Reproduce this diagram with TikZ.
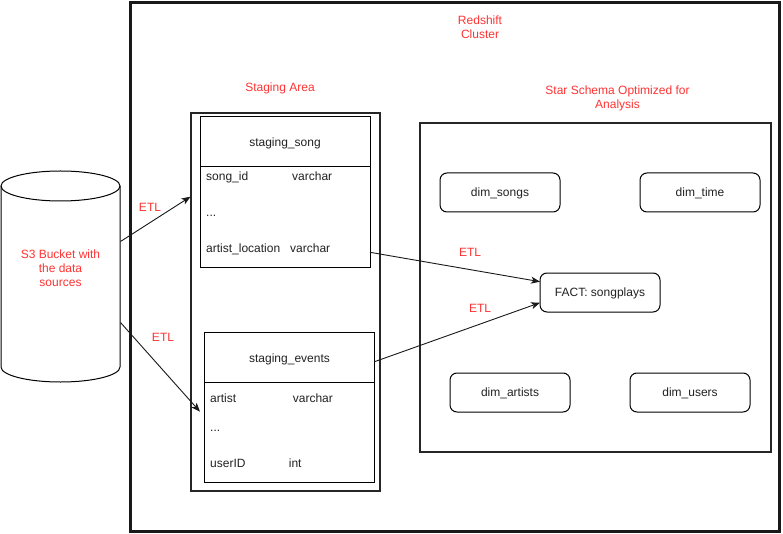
\documentclass[tikz,border=0pt]{standalone}
\usepackage{fontspec}
\setmainfont{Liberation Sans}
\usetikzlibrary{arrows.meta,calc}
\definecolor{lblred}{HTML}{FF3333}
\definecolor{ink}{HTML}{222222}
\begin{document}
\begin{tikzpicture}[x=1pt,y=-1pt,
  every node/.style={font=\fontsize{12}{14}\selectfont, text=ink, inner sep=0pt},
  oneline/.style={text height=10pt, text depth=2pt},
  redlbl/.style={text=lblred, align=center},
  dimbox/.style={draw=black, line width=1pt, rounded corners=7pt, minimum width=120pt, minimum height=39pt, oneline},
  tablebox/.style={draw=black, line width=1pt, minimum width=170pt, minimum height=150pt},
  areabox/.style={draw=black!85, line width=2pt},
  clusterbox/.style={draw=black!90, line width=3pt},
  rowtxt/.style={anchor=base west},
  etl/.style={-{Stealth[length=9pt,width=7pt,inset=2.5pt]}, line width=0.9pt, draw=black!90}
]
\useasboundingbox (0,0) rectangle (783,534);
\fill[white] (0,0) rectangle (783,534);

% cluster and areas
\node[clusterbox, minimum width=649pt, minimum height=529pt] (cluster) at (455,267) {};
\node[areabox, minimum width=189pt, minimum height=378pt] (staging) at (285.5,302) {};
\node[areabox, minimum width=351pt, minimum height=329pt] (star) at (595.5,287.5) {};

% labels
\node[redlbl] (clusterlbl) at (480,27.4) {Redshift\\Cluster};
\node[redlbl, oneline] (staginglbl) at (280,87.7) {Staging Area};
\node[redlbl] (starlbl) at (617.5,98.7) {Star Schema Optimized for\\Analysis};

% S3 bucket cylinder
\node[minimum width=119pt, minimum height=211pt] (s3) at (60.5,276.5) {};
\draw[line width=1pt, fill=white] (1,186) -- (1,367) arc[start angle=180, end angle=0, x radius=59.5, y radius=15] -- (120,186);
\draw[line width=1pt] (60.5,186) ellipse[x radius=59.5, y radius=15];
\node[redlbl] (s3lbl) at (60.5,267.8) {S3 Bucket with\\the data\\sources};

% staging_song table
\node[tablebox] (song) at (285,192) {};
\draw[line width=1pt] (200,167) -- (370,167);
\node[oneline] (songtitle) at (285,143) {staging\_song};
\node[rowtxt] (s1a) at (206,180.3) {song\_id};
\node[rowtxt] (s1b) at (292,180.3) {varchar};
\node[rowtxt] (s2a) at (206,217) {...};
\node[rowtxt] (s3a) at (206,252.3) {artist\_location};
\node[rowtxt] (s3b) at (290,252.3) {varchar};

% staging_events table
\node[tablebox] (events) at (289.5,407.5) {};
\draw[line width=1pt] (204.5,382.5) -- (374.5,382.5);
\node[oneline] (eventstitle) at (289.5,358) {staging\_events};
\node[rowtxt] (e1a) at (210,402.5) {artist};
\node[rowtxt] (e1b) at (292.7,402.5) {varchar};
\node[rowtxt] (e2a) at (210,431.5) {...};
\node[rowtxt] (e3a) at (210,467.3) {userID};
\node[rowtxt] (e3b) at (288.7,467.3) {int};

% star schema boxes
\node[dimbox] (dimsongs) at (500,192.5) {dim\_songs};
\node[dimbox] (dimtime) at (700,192.5) {dim\_time};
\node[dimbox] (fact) at (600,292.5) {FACT: songplays};
\node[dimbox] (dimartists) at (510,392.5) {dim\_artists};
\node[dimbox] (dimusers) at (690,392.5) {dim\_users};

% connector end points
\coordinate (c1s) at (120.5,241.5);
\coordinate (c1e) at (190.5,196.7);
\coordinate (c2s) at (120.5,322.5);
\coordinate (c2e) at (200,411.7);
\coordinate (c3s) at (370,252.3);
\coordinate (c3e) at (540,281.7);
\coordinate (c4s) at (374.5,361.7);
\coordinate (c4e) at (540,302.7);

\draw[etl] (c1s) -- (c1e);
\draw[etl] (c2s) -- (c2e);
\draw[etl] (c3s) -- (c3e);
\draw[etl] (c4s) -- (c4e);

\node[redlbl, oneline] (etl1) at (150,207.7) {ETL};
\node[redlbl, oneline] (etl2) at (163,337) {ETL};
\node[redlbl, oneline] (etl3) at (470,253) {ETL};
\node[redlbl, oneline] (etl4) at (480,308) {ETL};
\end{tikzpicture}
\end{document}
